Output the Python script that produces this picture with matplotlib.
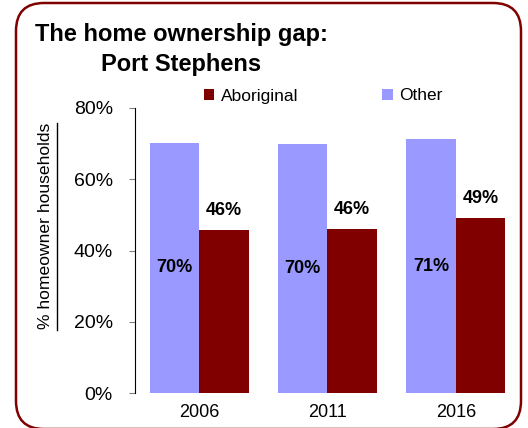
import numpy as np
import matplotlib.pyplot as plt
from matplotlib.patches import FancyBboxPatch
from matplotlib.lines import Line2D

plt.rcParams['font.family'] = ['Liberation Sans', 'DejaVu Sans']

years = ['2006', '2011', '2016']
other = [70.2, 69.9, 71.2]
aboriginal = [45.8, 45.9, 49.2]
other_labels = ['70%', '70%', '71%']
aboriginal_labels = ['46%', '46%', '49%']

c_other = '#9999FF'
c_abor = '#800000'

W, H = 528, 428
fig = plt.figure(figsize=(W / 100, H / 100), dpi=100)

# rounded frame
frame = FancyBboxPatch((0.16, -0.01), 5.05, 4.26,
                       boxstyle='round,pad=0,rounding_size=0.28',
                       transform=fig.dpi_scale_trans, facecolor='none',
                       edgecolor=c_abor, linewidth=1.8, zorder=0)
fig.patches.append(frame)

ax = fig.add_axes([135 / W, (H - 393) / H, (520 - 135) / W, (393 - 108) / H])
ax.patch.set_alpha(0)

x = np.arange(len(years))
w = 0.385
b1 = ax.bar(x - w / 2, other, w, color=c_other, label='Other')
b2 = ax.bar(x + w / 2, aboriginal, w, color=c_abor, label='Aboriginal')

for rect, lab in zip(b1, other_labels):
    ax.text(rect.get_x() + rect.get_width() / 2, rect.get_height() / 2, lab,
            ha='center', va='center', fontsize=13, fontweight='bold')
for rect, lab in zip(b2, aboriginal_labels):
    ax.annotate(lab, (rect.get_x() + rect.get_width() / 2, rect.get_height()),
                xytext=(0, 8), textcoords='offset points',
                ha='center', va='bottom', fontsize=13, fontweight='bold')

ax.set_xlim(-0.5, 2.5)
ax.set_ylim(0, 80)
ax.set_yticks([0, 20, 40, 60, 80])
ax.set_yticklabels(['0%', '20%', '40%', '60%', '80%'], fontsize=14)
ax.set_xticks(x)
ax.set_xticklabels(years, fontsize=13)
ax.tick_params(axis='x', length=0, pad=8)
ax.tick_params(axis='y', length=4, color='#808080', pad=12)
for s in ['top', 'right', 'bottom']:
    ax.spines[s].set_visible(False)
ax.spines['left'].set_color('black')

# y label with underline
fig.text(46 / W, 1 - 226 / H, '% homeowner households', rotation=90,
         ha='center', va='center', fontsize=12.6)
fig.add_artist(Line2D([57 / W, 57 / W], [1 - 123 / H, 1 - 330 / H],
                      transform=fig.transFigure, color='black', linewidth=1))

# title
fig.text(181 / W, 1 - 35 / H, 'The home ownership gap:', ha='center', va='center',
         fontsize=17, fontweight='bold')
fig.text(181 / W, 1 - 64 / H, 'Port Stephens', ha='center', va='center',
         fontsize=17, fontweight='bold')

handles = [b2, b1]
fig.legend(handles, ['Aboriginal', 'Other'], ncol=2, loc='center left',
           bbox_to_anchor=(204 / W, 1 - 96 / H), frameon=False, fontsize=12.5,
           handlelength=0.6, handleheight=0.6, handletextpad=0.35,
           columnspacing=4.85, borderaxespad=0, borderpad=0)

fig.savefig('out.png', dpi=100)
